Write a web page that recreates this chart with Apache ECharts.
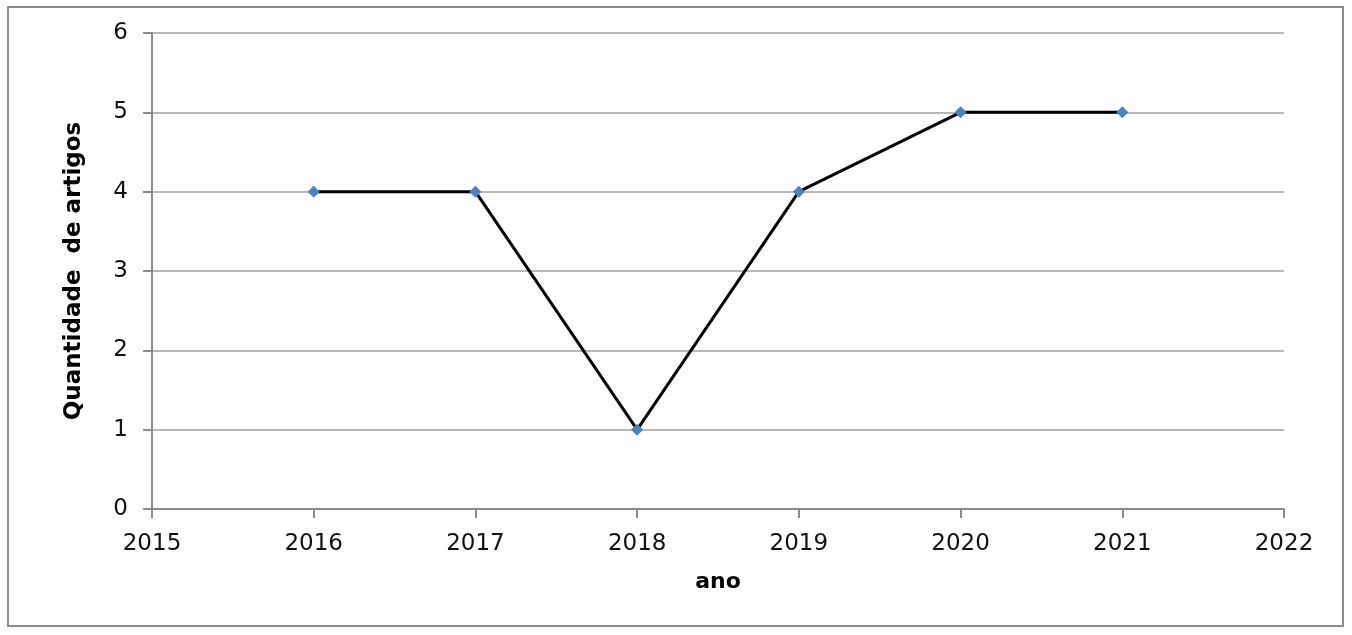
<!DOCTYPE html>
<html>
<head>
<meta charset="utf-8">
<script src="https://cdn.jsdelivr.net/npm/echarts@6/dist/echarts.min.js"></script>
<style>
html,body{margin:0;padding:0;background:#fff;}
#main{width:1352px;height:635px;}
</style>
</head>
<body>
<div id="main"></div>
<script>
const years = [2016, 2017, 2018, 2019, 2020, 2021];
const quantidade = [4, 4, 1, 4, 5, 5];
const xTitle = 'ano';
const yTitle = 'Quantidade  de artigos';

const chart = echarts.init(document.getElementById('main'));
const font = 'DejaVu Sans, Verdana, sans-serif';
chart.setOption({
  backgroundColor: '#fff',
  animation: false,
  graphic: [{
    type: 'rect',
    shape: {x: 8, y: 7, width: 1335, height: 619},
    style: {fill: 'none', stroke: '#8c8c8c', lineWidth: 2},
    silent: true
  }],
  grid: {left: 152, right: 68, top: 33, bottom: 126},
  xAxis: {
    type: 'value',
    min: 2015, max: 2022, interval: 1,
    name: xTitle,
    nameLocation: 'middle',
    nameGap: 62,
    nameTextStyle: {fontFamily: font, fontSize: 22, fontWeight: 'bold', color: '#000'},
    axisLine: {show: true, lineStyle: {color: '#8c8c8c', width: 2}},
    axisTick: {show: true, length: 9, lineStyle: {color: '#8c8c8c', width: 2}},
    axisLabel: {fontFamily: font, fontSize: 23, color: '#111', margin: 24, formatter: v => String(v)},
    splitLine: {show: false}
  },
  yAxis: {
    type: 'value',
    min: 0, max: 6, interval: 1,
    name: yTitle,
    nameLocation: 'middle',
    nameGap: 66,
    nameTextStyle: {fontFamily: font, fontSize: 23, fontWeight: 'bold', color: '#000'},
    axisLine: {show: true, lineStyle: {color: '#8c8c8c', width: 2}},
    axisTick: {show: true, length: 9, lineStyle: {color: '#8c8c8c', width: 2}},
    axisLabel: {fontFamily: font, fontSize: 23, color: '#111', margin: 24},
    splitLine: {show: true, lineStyle: {color: '#a0a0a0', width: 1.5}}
  },
  series: [{
    type: 'line',
    data: years.map((y, i) => [y, quantidade[i]]),
    symbol: 'diamond',
    symbolSize: 12,
    itemStyle: {color: '#4F81BD'},
    lineStyle: {color: '#000', width: 3},
    z: 3
  }]
});
</script>
</body>
</html>
